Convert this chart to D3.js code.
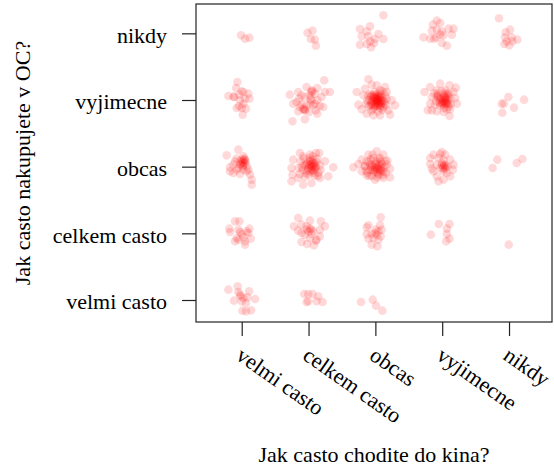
<!DOCTYPE html>
<html>
<head>
<meta charset="utf-8">
<script src="https://cdn.jsdelivr.net/npm/d3@7"></script>
<style>
  body { margin: 0; background: #fff; }
  svg text { font-family: 'Liberation Serif', 'DejaVu Serif', serif; fill: #000; }
</style>
</head>
<body>
<div id="chart"></div>
<script>
// categories (same scale on both axes)
var kinoLevels = ["velmi casto", "celkem casto", "obcas", "vyjimecne", "nikdy"];
var ocLevels = ["velmi casto", "celkem casto", "obcas", "vyjimecne", "nikdy"];

// jittered offsets [dx, dy] of every respondent, one list per kino level
var rowNikdy = [
  [[-0.01,-0.03],[0.05,-0.08],[0.115,-0.065]],
  [[-0.015,0.01],[0.06,0.04],[0.035,-0.085],[0.095,-0.095],[0.11,-0.185]],
  [[0.12,0.27],[-0.23,0.065],[-0.08,0.105],[-0.13,0.03],[-0.205,-0.045],[-0.105,-0.045],[-0.08,-0.12],
   [0.045,-0.01],[-0.005,-0.085],[0.12,-0.085],[-0.23,-0.17],[-0.13,-0.16],[-0.065,-0.21],[-0.02,-0.145]],
  [[-0.28,-0.06],[-0.14,0.13],[-0.08,0.19],[-0.03,0.155],[-0.155,0.04],[-0.08,0.055],[-0.005,0.03],
   [0.095,0.07],[0.17,0.07],[0.145,-0.02],[0.02,-0.03],[-0.03,-0.02],[-0.09,-0.06],[-0.18,-0.08],
   [-0.12,-0.08],[-0.005,-0.145],[0.07,-0.185]],
  [[-0.15,0.225],[0.015,0.055],[-0.05,0.015],[-0.06,-0.06],[0.04,-0.06],[0.125,-0.095],[-0.07,-0.16],
   [0.005,-0.18],[0.05,-0.12],[-0.035,-0.12]]
];

var rowVyjimecne = [
  [[-0.065,0.27],[-0.085,0.18],[0,0.13],[-0.2,0.06],[-0.115,0.045],[-0.035,0.08],[0.025,0.12],[0.1,0.095],
   [0.05,0.02],[0.115,0.02],[-0.025,-0.005],[0.025,-0.055],[-0.075,-0.12],[0,-0.12],[0.065,-0.13],[0.015,-0.22],
   [-0.12,0.05],[-0.04,-0.09]],
  [[0.235,0.295],[0.13,0.18],[-0.03,0.195],[-0.155,0.12],[0.02,0.07],[-0.055,0.045],[-0.28,0.08],[-0.14,0.02],
   [-0.23,-0.055],[-0.105,-0.07],[0.045,-0.005],[0.13,-0.005],[0.195,0.045],[0.245,0.12],[0.32,0.12],
   [0.17,-0.09],[0.22,-0.105],[0.07,-0.08],[-0.03,-0.08],[-0.08,-0.14],[-0.155,-0.17],[-0.055,-0.155],
   [0.01,-0.18],[0.11,-0.155],[0.13,-0.205],[-0.055,-0.29],[-0.24,-0.32],[-0.18,-0.03],[0.095,0.095],
   [0.045,0.145],[-0.105,0.07],[0.02,-0.055],[-0.13,-0.105],[0.04,0.12],[0.06,0.13],[-0.07,-0.13],
   [-0.05,-0.15],[0.1,-0.06],[0.03,0.02]],
  [[-0.105,0.31],[-0.055,0.23],[-0.28,0.12],[-0.255,-0.07],[-0.205,-0.14],[-0.13,-0.205],[-0.03,-0.23],
   [0.07,-0.23],[0.22,-0.22],[0.195,-0.155],[0.295,-0.08],[0.245,-0.005],[0.17,0.12],[0.145,0.195],
   [0.02,0.22],[0.07,0.145],[-0.18,0.07],[-0.155,0.17],
   [0.02,-0.03],[0.05,-0.01],[-0.02,0.02],[0.08,-0.06],[0,-0.09],[0.1,0.03],[-0.05,-0.05],[0.03,0.06],
   [0.07,-0.12],[-0.07,0.05],[0.13,-0.02],[-0.1,-0.09],[0.11,-0.15],[-0.03,-0.14],[0.15,0.07],[-0.08,0.09],
   [0.04,-0.17],[-0.12,-0.01],[0.16,-0.08],[0.06,0.1],[-0.01,0.12],[0.09,0.08],[-0.06,-0.16],[0.12,-0.11],
   [-0.09,0],[0.02,0.03],[0.06,-0.07],[-0.04,-0.01],[0.08,0],[0,-0.05],[0.04,0.01],[-0.02,-0.11],
   [0.14,-0.05],[-0.11,0.06],[0.1,0.13],[0.01,0.08],[0.07,0.04],[-0.05,0.07],[0.17,0.02],[-0.14,-0.06],
   [0.03,-0.04],[-0.01,-0.02],[0.05,0.03],[0.01,-0.07],[-0.03,0.04],[0.07,-0.03],[0.02,0],[0.04,-0.09],
   [-0.06,-0.03],[0.09,-0.04],[0,0.04],[0.06,0.06],[-0.04,-0.07],[0.03,-0.01],[0.08,-0.09],[-0.02,0.07],
   [0.05,-0.05],[0.11,-0.01],[-0.07,-0.08],[0.01,0.02]],
  [[-0.265,0.12],[-0.18,0.195],[-0.03,0.245],[0.11,0.22],[0.205,0.185],[0.17,0.12],[0.195,0.03],[0.22,-0.055],
   [0.12,-0.14],[0.11,-0.24],[0.02,-0.18],[-0.08,-0.17],[-0.155,-0.155],[-0.215,-0.155],[-0.18,-0.055],
   [-0.155,0.045],[-0.08,0.145],[0.045,0.145],
   [0,-0.03],[0.04,0],[-0.05,0.03],[0.06,-0.06],[-0.03,-0.08],[0.09,0.05],[-0.09,-0.02],[0.02,0.08],
   [0.1,-0.1],[-0.07,0.09],[0.12,0.02],[-0.11,-0.07],[0.03,-0.12],[-0.02,0.03],[0.06,0.04],[-0.04,-0.04],
   [0.08,-0.02],[-0.08,0.05],[0.01,-0.05],[0.05,0.1],[-0.12,0.1],[0.13,-0.06],[-0.01,0.13],[0.07,-0.14],
   [0.03,-0.03],[0.05,-0.05],[0.01,-0.01],[0.07,-0.04],[0.02,-0.07],[0.06,0.01],[-0.01,-0.06],[0.04,0.03],
   [0.09,-0.06],[-0.03,0.01],[0.03,0.05],[0.08,0.08],[-0.06,0.06],[0.1,0.1]],
  [[-0.01,0.045],[-0.11,-0.055],[-0.075,-0.055],[0.075,-0.115],[-0.1,-0.19],[0.225,0.005]]
];

var rowObcas = [
  [[-0.225,0.17],[-0.05,0.255],[0.025,0.155],[0,0.105],[-0.1,0.08],[-0.175,-0.01],[-0.125,0.03],[-0.025,0.03],
   [0.05,0.055],[0.075,0.005],[0.025,-0.045],[-0.075,-0.045],[-0.125,-0.095],[-0.025,-0.11],[0.075,-0.07],
   [0.125,-0.12],[0.15,-0.195],[0.15,-0.27],[0.1,-0.045],[-0.175,-0.07],[-0.05,-0.02],[0.015,0.005],
   [0.05,0.105],[-0.025,0.08],[0.025,0.055],[-0.075,0.12],[0.03,0.1],[0.01,0.07],[0.04,0.12],[-0.01,0.04],
   [0.06,0.08],[0.02,0.02]],
  [[-0.13,0.205],[0.11,0.205],[0.16,0.205],[-0.23,0.105],[-0.255,-0.02],[-0.24,-0.12],[-0.255,-0.22],
   [-0.08,-0.27],[0.045,-0.245],[0.17,-0.17],[0.295,-0.145],[0.37,-0.01],[0.245,0.08],[-0.08,0.155],
   [0.02,0.18],[-0.155,-0.17],
   [0.05,0],[0.08,0.03],[-0.02,0.05],[0.1,-0.04],[0.03,-0.07],[-0.06,0.02],[0.12,0.07],[-0.09,-0.05],
   [0.06,0.1],[0,-0.12],[0.15,-0.09],[-0.12,0.08],[0.09,-0.13],[-0.04,-0.1],[0.17,0.02],[-0.15,-0.02],
   [0.02,0.13],[-0.07,0.12],[0.13,0.12],[0.04,0.04],[0.07,-0.06],[-0.01,-0.03],[0.11,0],[-0.1,0],
   [0.18,-0.05],[-0.05,-0.15],[0.01,0.08],[0.14,-0.14],[-0.13,-0.11],[0.06,0.16],
   [0.04,-0.02],[0.07,0.01],[0.02,0.03],[0.09,0.05],[0.05,-0.05],[0.01,0.01],[0.06,0.06],[0.1,-0.01],
   [-0.02,-0.06],[0.03,0.09],[0.08,-0.09],[-0.04,0.03]],
  [[-0.33,-0.01],[-0.205,0.105],[-0.105,0.18],[0.02,0.23],[0.12,0.18],[0.18,0.09],[0.22,-0.03],[0.22,-0.16],
   [0.12,-0.17],[-0.005,-0.195],[-0.13,-0.13],[-0.205,-0.07],[-0.255,0.04],[-0.04,0.18],[0.07,0.13],
   [-0.155,0.005],
   [0,-0.02],[0.04,0.01],[-0.05,0.02],[0.07,-0.06],[-0.02,-0.08],[0.1,0.04],[-0.08,-0.05],[0.02,0.08],
   [0.05,-0.12],[-0.1,0.07],[0.13,-0.01],[-0.12,-0.09],[0.11,-0.13],[-0.05,-0.14],[0.15,0.08],[-0.13,0.08],
   [0.03,-0.16],[-0.16,0.01],[0.16,-0.09],[0.06,0.12],[-0.03,0.13],[0.08,0.07],[-0.09,-0.14],[0.12,-0.08],
   [-0.14,-0.06],[0.01,0.03],[0.05,-0.04],[-0.06,-0.01],[0.09,0],[-0.01,-0.05],[0.17,0.03],[-0.07,0.11],
   [0.03,-0.03],[-0.03,0],[0.06,0.03],[0.02,-0.08],[-0.04,-0.05],[0.08,-0.04],[0,0.05],[0.04,-0.1],
   [-0.08,0.03],[0.1,-0.06]],
  [[-0.18,0.13],[-0.13,0.18],[-0.03,0.19],[0.045,0.18],[-0.005,0.22],[0.12,0.105],[0.17,0.03],[0.16,-0.045],
   [0.12,-0.145],[0.02,-0.195],[-0.055,-0.22],[-0.08,-0.145],[-0.13,-0.07],[-0.155,-0.03],[-0.08,0.03],
   [-0.005,0.055],[0.045,-0.01],[0.02,-0.07],[0.08,0.005],[0.02,0.105],[-0.03,-0.02],[-0.18,0.04],
   [0.07,-0.095],[-0.055,0.13],[0.02,0.005],[0.045,-0.03],[-0.005,0.02],[0.03,0.03],[0.01,-0.03],[0.05,0.02]],
  [[-0.245,-0.02],[-0.175,0.105],[0.115,0.055],[0.2,0.115]]
];

var rowCelkem = [
  [[-0.1,0.18],[-0.035,0.18],[-0.185,0.07],[-0.175,0.02],[-0.05,0.055],[0,-0.01],[-0.075,-0.07],[-0.1,-0.12],
   [0.025,-0.06],[0.05,-0.12],[0.115,0.07],[0.1,0.005],[0.135,-0.08],[0.05,-0.17],[-0.05,-0.095],[0.075,0.03],
   [-0.025,0.02]],
  [[-0.155,0.23],[0.02,0.19],[0.185,0.18],[0.245,0.105],[-0.22,0.105],[-0.105,0.13],[-0.03,0.055],[0.02,0.07],
   [0.07,0.03],[0.17,0.055],[0.17,-0.045],[0.12,-0.095],[0.02,-0.07],[-0.105,0.005],[-0.155,0.04],
   [-0.055,-0.02],[-0.105,-0.13],[-0.02,-0.16],[0.08,-0.18],[0.11,-0.11],[-0.03,0.105],[0.045,-0.01],
   [0.0,0.03],[0.04,0.06]],
  [[0.08,0.24],[-0.105,0.12],[0.07,0.12],[0.095,0.055],[0.045,0.03],[-0.005,0.005],[-0.055,-0.01],[-0.13,-0.01],
   [-0.03,-0.07],[0.045,-0.095],[-0.105,-0.08],[-0.055,-0.17],[0.03,-0.195],[0.08,-0.045],[0.005,0.055],
   [-0.13,0.09],[0.02,-0.02]],
  [[-0.17,-0.02],[-0.05,0.14],[0.11,0.14],[0.07,0.07],[0.07,-0.01],[0.11,-0.08],[0.06,-0.12]],
  [[-0.005,-0.17]]
];

var rowVelmi = [
  [[-0.2,0.155],[-0.06,0.205],[-0.05,0.12],[-0.025,0.08],[-0.015,0.055],[0.025,0.03],[0.11,0.13],[0.085,0.04],
   [-0.115,-0.01],[0,-0.02],[0.065,-0.045],[0.2,0.015],[0.01,-0.16],[0.065,-0.17],[0.14,-0.155]],
  [[-0.065,0.09],[-0.005,0.09],[0.06,0.09],[0.145,0.055],[-0.03,-0.03],[-0.005,-0.02],[0.12,-0.02],[0.21,-0.03]],
  [[-0.215,-0.03],[-0.04,0.005],[0.01,-0.085],[0.105,-0.16]],
  [],
  []
];

var rows = [rowVelmi, rowCelkem, rowObcas, rowVyjimecne, rowNikdy];

var points = [];
rows.forEach(function(row, oi) {
  row.forEach(function(cell, ki) {
    cell.forEach(function(d) {
      points.push({ kino: ki + 1 + d[0], oc: oi + 1 + d[1] });
    });
  });
});

var svgWidth = 554;
var svgHeight = 471;
var serif = "'Liberation Serif', 'DejaVu Serif', serif";
var fontSize = "22px";

var margin = { top: 4, right: 2, bottom: 149, left: 196 };

var svg = d3.select("#chart")
  .append("svg")
  .attr("width", svgWidth)
  .attr("height", svgHeight)
  .attr("font-family", serif);

var xScale = d3.scaleLinear()
  .domain([0.316, 5.643])
  .range([margin.left, svgWidth - margin.right]);

var yScale = d3.scaleLinear()
  .domain([0.67, 5.44])
  .range([svgHeight - margin.bottom, margin.top]);

// points
svg.append("g")
  .selectAll("circle")
  .data(points)
  .enter()
  .append("circle")
  .attr("cx", d => xScale(d.kino))
  .attr("cy", d => yScale(d.oc))
  .attr("r", 4.3)
  .style("fill", "rgba(255,0,0,0.15)");

// y axis
var leftAxis = d3.axisLeft(yScale)
  .tickValues([1, 2, 3, 4, 5])
  .tickFormat(i => ocLevels[i - 1])
  .tickSize(14)
  .tickPadding(15);

var yAxis = svg.append("g")
  .attr("transform", `translate(${margin.left}, 0)`)
  .call(leftAxis)
  .attr("font-family", serif)
  .attr("font-size", 22);

yAxis.select(".domain").remove();
yAxis.selectAll("line").attr("stroke", "#222").attr("stroke-width", 1.2);
yAxis.selectAll("text")
  .attr("dy", "0.4em")
  .style("font-family", serif);

// x axis, labels rotated
var bottomAxis = d3.axisBottom(xScale)
  .tickValues([1, 2, 3, 4, 5])
  .tickFormat("")
  .tickSize(14);

var xAxis = svg.append("g")
  .attr("transform", `translate(0, ${svgHeight - margin.bottom})`)
  .call(bottomAxis);

xAxis.select(".domain").remove();
xAxis.selectAll("line").attr("stroke", "#222").attr("stroke-width", 1.2);

svg.append("g")
  .selectAll("text")
  .data([1, 2, 3, 4, 5])
  .enter()
  .append("text")
  .attr("transform", d => `translate(${xScale(d) - 7}, 358.5) rotate(35)`)
  .attr("text-anchor", "start")
  .style("font-family", serif)
  .style("font-size", fontSize)
  .text(d => kinoLevels[d - 1]);

// box
svg.append("rect")
  .attr("x", margin.left)
  .attr("y", margin.top)
  .attr("width", svgWidth - margin.left - margin.right)
  .attr("height", svgHeight - margin.top - margin.bottom)
  .attr("fill", "none")
  .attr("stroke", "#222")
  .attr("stroke-width", 1.2);

// axis titles
svg.append("text")
  .attr("x", (margin.left + svgWidth - margin.right) / 2)
  .attr("y", 462)
  .attr("text-anchor", "middle")
  .style("font-family", serif)
  .style("font-size", fontSize)
  .text("Jak casto chodite do kina?");

svg.append("text")
  .attr("transform", `translate(30, ${(margin.top + svgHeight - margin.bottom) / 2}) rotate(-90)`)
  .attr("text-anchor", "middle")
  .style("font-family", serif)
  .style("font-size", fontSize)
  .text("Jak casto nakupujete v OC?");
</script>
</body>
</html>
